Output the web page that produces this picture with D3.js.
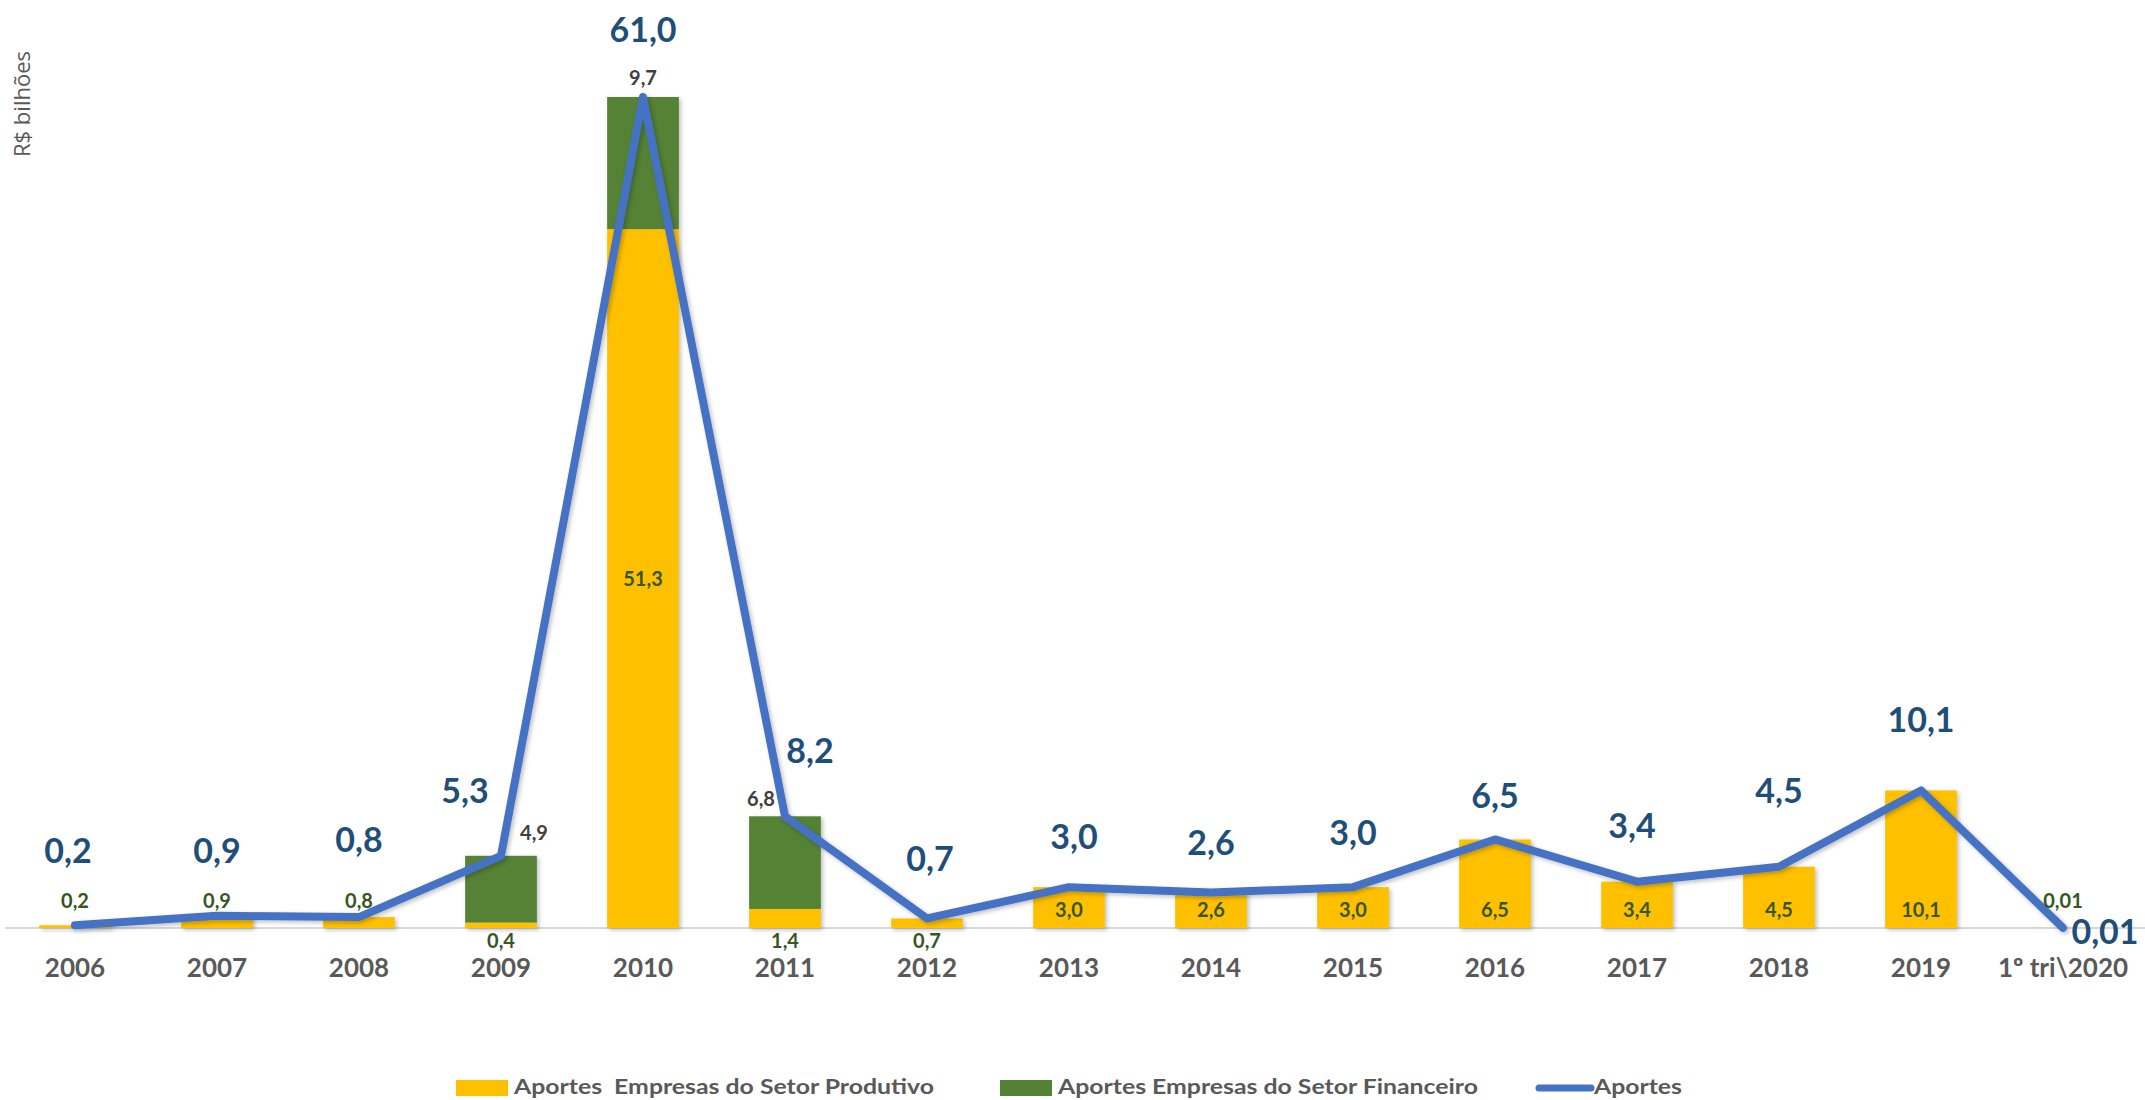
<!DOCTYPE html>
<html>
<head>
<meta charset="utf-8">
<script src="https://cdn.jsdelivr.net/npm/d3@7"></script>
<style>
  html, body { margin: 0; padding: 0; background: #ffffff; }
  svg { display: block; font-family: Lato, "Open Sans", sans-serif; }
  text { white-space: pre; }
</style>
</head>
<body>
<svg id="chart" width="2145" height="1100"></svg>
<script>
// ---- Data ----
const categories = ["2006","2007","2008","2009","2010","2011","2012","2013","2014","2015","2016","2017","2018","2019","1º tri\\2020"];
const produtivo  = [0.2, 0.9, 0.8, 0.4, 51.3, 1.4, 0.7, 3.0, 2.6, 3.0, 6.5, 3.4, 4.5, 10.1, 0.01];
const financeiro = [0, 0, 0, 4.9, 9.7, 6.8, 0, 0, 0, 0, 0, 0, 0, 0, 0];
const aportes    = [0.2, 0.9, 0.8, 5.3, 61.0, 8.2, 0.7, 3.0, 2.6, 3.0, 6.5, 3.4, 4.5, 10.1, 0.01];
const produtivoLabels  = ["0,2","0,9","0,8","0,4","51,3","1,4","0,7","3,0","2,6","3,0","6,5","3,4","4,5","10,1","0,01"];
const financeiroLabels = ["","","","4,9","9,7","6,8","","","","","","","","",""];
const aportesLabels    = ["0,2","0,9","0,8","5,3","61,0","8,2","0,7","3,0","2,6","3,0","6,5","3,4","4,5","10,1","0,01"];
const seriesNames = ["Aportes  Empresas do Setor Produtivo", "Aportes Empresas do Setor Financeiro", "Aportes"];

// ---- Layout / style (not data) ----
const colors = { prod: "#FFC000", fin: "#548235", line: "#4472C4", total: "#1F4E79", prodLbl: "#375623", finLbl: "#404040", axis: "#595959" };
// placement mode of the "produtivo" label: above bar, inside bottom, below axis, centre
const prodLabelMode = ["above","above","above","below","center","below","below","inside","inside","inside","inside","inside","inside","inside","above"];
// nudges of the totals labels relative to the line point
const totalNudge = [[-7,-74],[0,-65],[0,-77],[-36,-65],[0,-67],[25,-65],[3,-59],[5,-50],[0,-49],[0,-54],[0,-43],[-5,-56],[0,-76],[0,-70],[42,4]];
const finNudge = { 3: [33, -23], 4: [0, -19], 5: [-24, -17] };

const svg = d3.select("#chart");

const defs = svg.append("defs");
const f = defs.append("filter").attr("id","shadow").attr("x","-20%").attr("y","-20%").attr("width","150%").attr("height","150%");
f.append("feDropShadow").attr("dx",2).attr("dy",2).attr("stdDeviation",2).attr("flood-color","#000").attr("flood-opacity",0.25);

const x = d3.scaleBand().domain(categories).range([4, 2134]).paddingInner(0.495).paddingOuter(0.2475);
const y = d3.scaleLinear().domain([0, 61]).range([928, 97]);
const cx = c => x(c) + x.bandwidth() / 2;

// y axis title
svg.append("text")
  .attr("transform", "translate(30,104) rotate(-90)")
  .attr("text-anchor", "middle")
  .attr("font-family", "'Open Sans', sans-serif")
  .attr("font-size", 22)
  .attr("fill", colors.axis)
  .text("R$ bilhões");

// bars
const stack = categories.map((c, i) => ({ c, i, p: produtivo[i], f: financeiro[i] }));
const gBars = svg.append("g").attr("filter", "url(#shadow)");
gBars.selectAll("rect.prod").data(stack).join("rect")
  .attr("class","prod")
  .attr("x", d => x(d.c)).attr("width", x.bandwidth())
  .attr("y", d => y(d.p)).attr("height", d => y(0) - y(d.p))
  .attr("fill", colors.prod);
gBars.selectAll("rect.fin").data(stack.filter(d => d.f > 0)).join("rect")
  .attr("class","fin")
  .attr("x", d => x(d.c)).attr("width", x.bandwidth())
  .attr("y", d => y(d.p + d.f)).attr("height", d => y(d.p) - y(d.p + d.f))
  .attr("fill", colors.fin);

// x axis
const xAxis = d3.axisBottom(x).tickSize(0).tickPadding(0);
const gx = svg.append("g").attr("transform", "translate(0,928)").call(xAxis);
gx.select(".domain").remove();
svg.insert("line", "g").attr("x1", 5).attr("x2", 2145).attr("y1", 928).attr("y2", 928)
  .attr("stroke", "#d9d9d9").attr("stroke-width", 2);
gx.selectAll("text")
  .attr("y", 40).attr("dy", "0.35em")
  .attr("font-family", "Lato, sans-serif")
  .attr("font-size", 26).attr("font-weight", "bold")
  .attr("fill", colors.axis);

// line
const line = d3.line().x((d, i) => cx(categories[i])).y(d => y(d));
svg.append("path").datum(aportes)
  .attr("d", line)
  .attr("fill", "none")
  .attr("stroke", colors.line)
  .attr("stroke-width", 8)
  .attr("stroke-linejoin", "round")
  .attr("stroke-linecap", "round")
  .attr("filter", "url(#shadow)");

// produtivo labels
svg.append("g").selectAll("text").data(stack).join("text")
  .attr("x", d => cx(d.c))
  .attr("y", d => {
    const m = prodLabelMode[d.i];
    if (m === "above") return y(0) - 27;
    if (m === "below") return y(0) + 13;
    if (m === "center") return (y(0) + y(d.p)) / 2;
    return y(0) - 18;
  })
  .attr("dy", "0.35em")
  .attr("text-anchor", "middle")
  .attr("font-size", 20).attr("font-weight", "bold")
  .attr("fill", colors.prodLbl)
  .text(d => produtivoLabels[d.i]);

// financeiro labels
svg.append("g").selectAll("text").data(stack.filter(d => d.f > 0)).join("text")
  .attr("x", d => cx(d.c) + finNudge[d.i][0])
  .attr("y", d => y(d.p + d.f) + finNudge[d.i][1])
  .attr("dy", "0.35em")
  .attr("text-anchor", "middle")
  .attr("font-size", 20).attr("font-weight", "bold")
  .attr("fill", colors.finLbl)
  .text(d => financeiroLabels[d.i]);

// totals labels
svg.append("g").selectAll("text").data(aportes.map((v, i) => ({ v, i }))).join("text")
  .attr("x", d => cx(categories[d.i]) + totalNudge[d.i][0])
  .attr("y", d => y(d.v) + totalNudge[d.i][1])
  .attr("dy", "0.35em")
  .attr("text-anchor", "middle")
  .attr("font-size", 34).attr("font-weight", "bold")
  .attr("fill", colors.total)
  .text(d => aportesLabels[d.i]);

// legend
const legend = svg.append("g").attr("font-size", 21).attr("font-weight", "bold").attr("fill", colors.axis);
const legendItems = [
  { name: seriesNames[0], type: "rect", color: colors.prod, x: 456, w: 420 },
  { name: seriesNames[1], type: "rect", color: colors.fin,  x: 1000, w: 420 },
  { name: seriesNames[2], type: "line", color: colors.line, x: 1536, w: 88 }
];
legendItems.forEach(it => {
  if (it.type === "rect") {
    legend.append("rect").attr("x", it.x).attr("y", 1080).attr("width", 52).attr("height", 16).attr("fill", it.color);
  } else {
    legend.append("line").attr("x1", it.x + 3).attr("x2", it.x + 55).attr("y1", 1088).attr("y2", 1088)
      .attr("stroke", it.color).attr("stroke-width", 7).attr("stroke-linecap", "round");
  }
  legend.append("text").attr("x", it.x + 58).attr("y", 1087).attr("dy", "0.35em")
    .attr("textLength", it.w).attr("lengthAdjust", "spacingAndGlyphs")
    .text(it.name);
});
</script>
</body>
</html>
